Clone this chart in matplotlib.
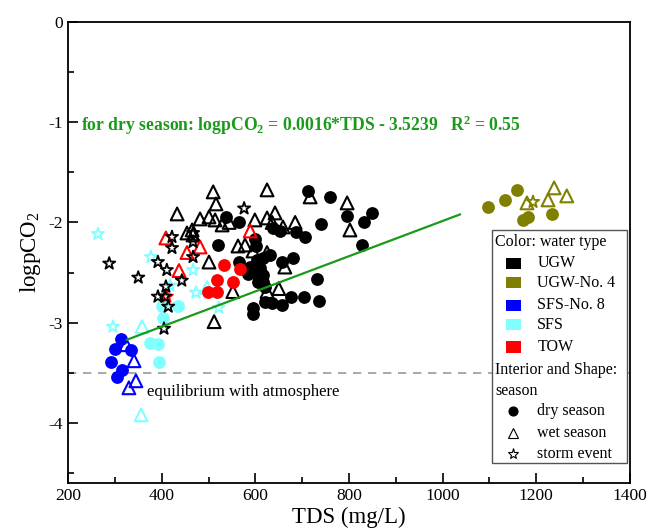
import matplotlib
matplotlib.use('Agg')
import matplotlib.pyplot as plt
from matplotlib.patches import Rectangle
from matplotlib.ticker import MultipleLocator

plt.rcParams['font.family'] = 'Liberation Serif'
plt.rcParams['mathtext.fontset'] = 'custom'
plt.rcParams['mathtext.rm'] = 'Liberation Serif'
plt.rcParams['mathtext.it'] = 'Liberation Serif:italic'
plt.rcParams['mathtext.bf'] = 'Liberation Serif:bold'
plt.rcParams['axes.unicode_minus'] = False

# UGW (black)
ugw_dry_tds = [712, 760, 795, 832, 849, 741, 687, 706, 680, 827, 731, 676, 703, 735, 638, 653,
               599, 601, 604, 616, 657, 610, 595, 616, 621, 636, 657, 595, 595, 537, 565, 520,
               565, 631, 589, 616, 584, 621, 606]
ugw_dry_co2 = [-1.685, -1.745, -1.935, -1.995, -1.905, -2.015, -2.095, -2.145, -2.355, -2.225,
               -2.56, -2.74, -2.74, -2.78, -2.055, -2.085, -2.165, -2.235, -2.37, -2.355, -2.395,
               -2.455, -2.49, -2.59, -2.79, -2.80, -2.82, -2.85, -2.91, -1.945, -2.00, -2.225,
               -2.395, -2.325, -2.445, -2.52, -2.51, -2.64, -2.59]
ugw_wet_tds = [625, 717, 796, 642, 625, 599, 636, 659, 685, 802, 625, 663, 625, 650, 510, 516,
               501, 482, 529, 544, 514, 465, 563, 578, 595, 501, 433, 454, 467, 552, 512]
ugw_wet_co2 = [-1.675, -1.745, -1.805, -1.905, -1.955, -1.975, -2.00, -2.045, -2.00, -2.075,
               -2.30, -2.445, -2.69, -2.66, -1.695, -1.815, -1.945, -1.965, -2.025, -2.00,
               -1.975, -2.075, -2.235, -2.225, -2.285, -2.395, -1.915, -2.105, -2.125, -2.69, -2.99]
ugw_storm_tds = [288, 350, 392, 411, 422, 422, 443, 467, 467, 467, 392, 414, 407, 405, 576, 409]
ugw_storm_co2 = [-2.41, -2.55, -2.395, -2.475, -2.145, -2.255, -2.58, -2.105, -2.195, -2.345,
                 -2.74, -2.84, -2.74, -3.06, -1.86, -2.64]

# UGW-No. 4 (olive)
ugw4_dry_tds = [1097, 1133, 1159, 1171, 1182, 1233]
ugw4_dry_co2 = [-1.845, -1.775, -1.675, -1.975, -1.945, -1.915]
ugw4_wet_tds = [1238, 1265, 1225, 1180]
ugw4_wet_co2 = [-1.655, -1.735, -1.775, -1.805]
ugw4_storm_tds = [1193]
ugw4_storm_co2 = [-1.795]

# SFS-No. 8 (blue)
sfs8_dry_tds = [313, 300, 335, 292, 315, 305]
sfs8_dry_co2 = [-3.16, -3.26, -3.27, -3.39, -3.47, -3.54]
sfs8_wet_tds = [324, 341, 345, 330]
sfs8_wet_co2 = [-3.22, -3.38, -3.58, -3.65]

# SFS (cyan)
sfs_dry_tds = [375, 392, 394, 403, 435, 401]
sfs_dry_co2 = [-3.20, -3.21, -3.39, -2.95, -2.83, -2.83]
sfs_wet_tds = [358, 356, 497]
sfs_wet_co2 = [-3.04, -3.92, -2.65]
sfs_storm_tds = [264, 296, 377, 418, 467, 473, 522]
sfs_storm_co2 = [-2.115, -3.04, -2.345, -2.63, -2.475, -2.70, -2.85]

# TOW (red)
tow_dry_tds = [533, 567, 518, 552, 518, 499]
tow_dry_co2 = [-2.42, -2.465, -2.57, -2.59, -2.69, -2.69]
tow_wet_tds = [409, 482, 589, 437, 454]
tow_wet_co2 = [-2.155, -2.245, -2.085, -2.48, -2.30]
tow_storm_tds = [411]
tow_storm_co2 = [-2.74]

# dry season regression line (as drawn)
fit_tds = [326, 1037]
fit_co2 = [-3.17, -1.92]
equil_co2 = -3.5

c_ugw = 'black'
c_ugw4 = '#808000'
c_sfs8 = '#0000ff'
c_sfs = '#80ffff'
c_tow = '#ff0000'
green = '#1a9a1a'

fig = plt.figure(figsize=(6.49, 5.32), dpi=100)
ax = fig.add_axes([0.1048, 0.0921, 0.8659, 0.8665])

ax.axhline(equil_co2, color='#999999', ls=(0, (5, 4)), lw=1.2, zorder=1)
ax.plot(fit_tds, fit_co2, color=green, lw=1.6, zorder=4)


def dry(x, y, c):
    ax.scatter(x, y, s=85, c=c, marker='o', linewidths=0, zorder=3)


def wet(x, y, c):
    ax.scatter(x, y, s=85, facecolors='none', edgecolors=c, marker='^', linewidths=1.5, zorder=3)


def storm(x, y, c):
    ax.scatter(x, y, s=85, facecolors='none', edgecolors=c, marker='*', linewidths=1.3, zorder=3)


dry(sfs_dry_tds, sfs_dry_co2, c_sfs)
wet(sfs_wet_tds, sfs_wet_co2, c_sfs)
storm(sfs_storm_tds, sfs_storm_co2, c_sfs)
dry(sfs8_dry_tds, sfs8_dry_co2, c_sfs8)
wet(sfs8_wet_tds, sfs8_wet_co2, c_sfs8)
dry(ugw_dry_tds, ugw_dry_co2, c_ugw)
wet(ugw_wet_tds, ugw_wet_co2, c_ugw)
dry(tow_dry_tds, tow_dry_co2, c_tow)
wet(tow_wet_tds, tow_wet_co2, c_tow)
storm(tow_storm_tds, tow_storm_co2, c_tow)
storm(ugw_storm_tds, ugw_storm_co2, c_ugw)
dry(ugw4_dry_tds, ugw4_dry_co2, c_ugw4)
wet(ugw4_wet_tds, ugw4_wet_co2, c_ugw4)
storm(ugw4_storm_tds, ugw4_storm_co2, c_ugw4)

ax.text(697, -1.03, r'for dry season: logpCO$_\mathbf{2}$ = 0.0016*TDS - 3.5239   R$^\mathbf{2}$ = 0.55',
        color=green, fontweight='bold', fontsize=12.7, ha='center', va='center')
ax.text(574, -3.69, 'equilibrium with atmosphere', fontsize=12, ha='center', va='center')

ax.set_xlim(200, 1400)
ax.set_ylim(-4.6, 0)
ax.xaxis.set_major_locator(MultipleLocator(200))
ax.xaxis.set_minor_locator(MultipleLocator(100))
ax.yaxis.set_major_locator(MultipleLocator(1))
ax.yaxis.set_minor_locator(MultipleLocator(0.5))
ax.tick_params(which='both', direction='in', top=False, right=False, labelsize=12.5, width=1.2)
ax.tick_params(which='major', length=7)
ax.tick_params(which='minor', length=4)
for s in ax.spines.values():
    s.set_linewidth(1.3)
ax.set_xlabel('TDS (mg/L)', fontsize=16.5, labelpad=2)
ax.set_ylabel('logpCO$_2$', fontsize=16.5, labelpad=4)

# legend drawn by hand
T = ax.transAxes
ax.add_patch(Rectangle((0.754, 0.043), 0.241, 0.506, transform=T, fc='white', ec='#555555',
                       lw=1, zorder=6))
fs = 11.5
ax.text(0.760, 0.523, 'Color: water type', transform=T, fontsize=fs, va='center', zorder=7)
rows = [(0.477, c_ugw, 'UGW'), (0.434, c_ugw4, 'UGW-No. 4'), (0.386, c_sfs8, 'SFS-No. 8'),
        (0.343, c_sfs, 'SFS'), (0.295, c_tow, 'TOW')]
for yy, c, lab in rows:
    ax.add_patch(Rectangle((0.779, yy - 0.012), 0.027, 0.024, transform=T, fc=c, ec='none', zorder=7))
    ax.text(0.835, yy, lab, transform=T, fontsize=fs, va='center', zorder=7)
ax.text(0.760, 0.245, 'Interior and Shape:', transform=T, fontsize=fs, va='center', zorder=7)
ax.text(0.760, 0.200, 'season', transform=T, fontsize=fs, va='center', zorder=7)
shapes = [(0.156, 'o', 'black', 'dry season'), (0.108, '^', 'none', 'wet season'),
          (0.063, '*', 'none', 'storm event')]
for yy, m, fc, lab in shapes:
    ax.plot([0.792], [yy], marker=m, ms=6.5 if m != '*' else 8, mfc=fc, mec='black', mew=0.8,
            transform=T, zorder=7, ls='none')
    ax.text(0.835, yy, lab, transform=T, fontsize=fs, va='center', zorder=7)

fig.savefig('out.png', dpi=100)
